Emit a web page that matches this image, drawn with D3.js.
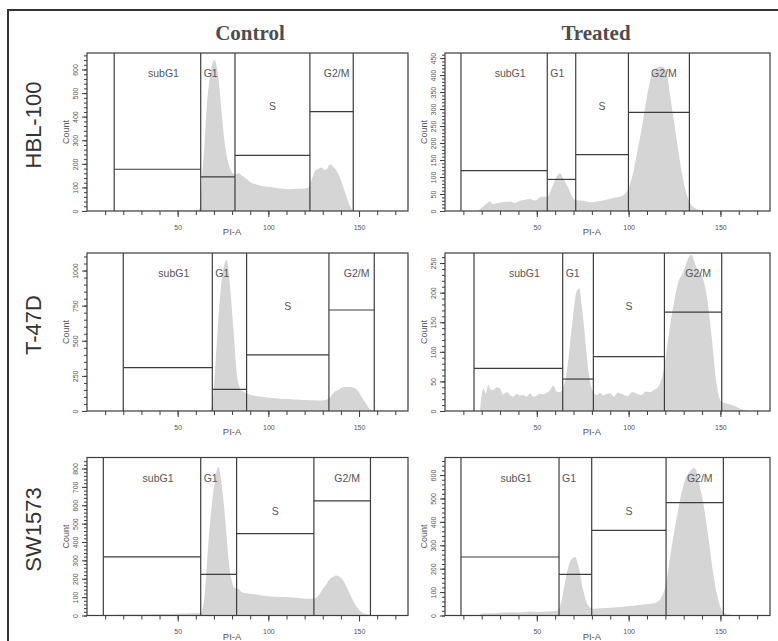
<!DOCTYPE html>
<html>
<head>
<meta charset="utf-8">
<script src="https://cdn.jsdelivr.net/npm/d3@7"></script>
<style>
body { margin: 0; background: #fff; }
svg { display: block; font-family: "Liberation Sans", Arial, sans-serif; }
</style>
</head>
<body>
<svg id="chart" width="778" height="641"></svg>
<script>
//layout
var WIDTH = 778;
var HEIGHT = 641;
var COL_LEFT = [87, 445];
var COL_WIDTH = [321, 325];
var COL_TITLE_X = [250, 596];
var ROW_TOP = [53, 253, 457.5];
var ROW_HEIGHT = 158;
var ROW_LABEL_X = 41;
var LINE_COLOR = "#3d3d3d";
var TEXT_COLOR = "#555";
var FILL_COLOR = "#d5d5d5";

//labels and axes
var CELL_LINES = ["HBL-100", "T-47D", "SW1573"];
var CONDITIONS = ["Control", "Treated"];
var GATE_NAMES = ["subG1", "G1", "S", "G2/M"];
var X_MAX = 177;
var X_TICK_LABELS = [50, 100, 150];
var X_TITLE = "PI-A";
var Y_TITLE = "Count";
var Y_MAX = [670, 465, 1125, 267, 860, 675];
var Y_TICK_STEP = [100, 50, 250, 50, 100, 100];

//gate edges (PI-A) and gate marker heights (count), one array each per panel
var hbl100ControlGates = [15, 62.7, 81.6, 122.9, 146.8];
var hbl100ControlLevels = [177, 145, 236, 421];
var hbl100TreatedGates = [8.7, 55.7, 71.2, 99.9, 133.1];
var hbl100TreatedLevels = [119, 93, 166, 290];
var t47dControlGates = [20, 69.1, 88, 133.4, 158.4];
var t47dControlLevels = [309, 154, 399, 719];
var t47dTreatedGates = [15.8, 64.1, 80.8, 119.5, 150.7];
var t47dTreatedLevels = [72, 54, 92, 167];
var sw1573ControlGates = [9, 62.7, 82.5, 125.1, 156.3];
var sw1573ControlLevels = [319, 224, 446, 624];
var sw1573TreatedGates = [8.7, 62.1, 79.9, 120.4, 151.6];
var sw1573TreatedLevels = [250, 176, 364, 482];

//histograms: [PI-A, count]
var hbl100Control = [[10,0],[30,1],[50,2],[60,3],[62,8],[63.5,150],[64.5,250],[66,440],[67.8,570],[70.2,640],[72.4,570],[74.2,420],[76.1,280],[77.9,205],[79.8,165],[81.6,155],[83.5,160],[85.5,150],[87.1,141],[90.8,120],[93.5,112],[96.3,106],[100,103],[103.6,99],[107,95],[111,92],[114.5,94],[118.3,95],[122,99],[123.9,134],[125.7,169],[127.5,178],[129.4,184],[131,174],[132.1,177],[133.3,192],[134.5,198],[135.6,188],[136.7,180],[138,165],[139.5,141],[142.3,78],[145,21],[146.5,4],[149,0]];
var hbl100Treated = [[18,0],[21.8,18],[24.5,28],[26,20],[28.1,23],[31,26],[35.4,28],[38,24],[40.8,30],[43.5,33],[46.3,35],[49,31],[52.6,42],[55.7,42],[58.1,67],[60.8,101],[62.6,111],[64.4,96],[67.2,67],[69.9,37],[71.2,32],[75.3,30],[79,26],[82.6,28],[86,31],[89.9,36],[92.5,40],[95.3,42],[98.9,57],[101.7,96],[104.4,165],[107.1,243],[109.8,331],[112.6,400],[115.3,420],[118,425],[120.7,410],[122.6,341],[125.3,243],[128,145],[130.7,67],[133.1,28],[136.2,8],[138.9,3],[145,1],[150,0]];
var t47dControl = [[20,0],[40,1],[60,2],[68,4],[69.6,114],[71.5,470],[73.3,802],[75.2,1016],[77,1075],[78.8,897],[80.7,588],[82.5,279],[84.4,161],[86,140],[88,125],[92.6,109],[97,100],[101.8,92],[106,88],[111,85],[115,82],[120.2,78],[125,76],[129.3,74],[133,85],[136.7,138],[138.5,150],[140.4,166],[142.5,170],[145,173],[147.7,162],[149.5,140],[151.4,102],[154.2,47],[156,12],[158,2],[162,0]];
var t47dTreated = [[19,0],[20.9,38],[22.2,30],[23.6,44],[25,36],[26.3,35],[28,40],[29.9,38],[31.7,28],[33.6,32],[35.4,27],[37.2,24],[39,29],[40.8,26],[42.6,27],[44.4,24],[46.3,30],[48.1,24],[50,26],[51.7,29],[53.5,28],[55.3,31],[57.2,35],[59,43],[60.8,33],[62.6,32],[64.4,40],[66.3,66],[69,140],[71.7,202],[73.2,207],[74.4,179],[75.8,140],[77.2,94],[79.9,38],[82.6,27],[84.5,31],[86.3,26],[88.1,29],[89.9,30],[92,24],[94,31],[97.1,28],[99.5,25],[102,32],[104.4,29],[107,27],[109.3,33],[111.6,32],[114,36],[116.2,41],[118.9,66],[121.6,123],[124.4,179],[127.1,218],[129.8,235],[131.5,250],[132.5,258],[134.3,264],[135.5,255],[137.1,241],[139.8,230],[142.5,196],[145.3,123],[148,44],[150.7,15],[153,13],[155.2,11],[158,8],[160.7,4],[164,1],[167,0]];
var sw1573Control = [[5,0],[10,3],[20,5],[30,6],[40,8],[50,10],[58,12],[62.7,14],[65.1,136],[66.9,391],[68.7,592],[70.6,737],[72.4,810],[74.2,719],[76.1,537],[77.9,319],[79.8,191],[81.5,150],[82.5,150],[84,140],[85.3,127],[89,120],[92.6,115],[97,108],[101.8,104],[106,101],[111,100],[115,96],[120.2,91],[125.1,92],[128.4,118],[130,145],[132.1,173],[134,200],[135.8,211],[137.2,218],[138.6,215],[141.3,191],[144.1,136],[147.7,64],[151.4,18],[155,5],[158,0]];
var sw1573Treated = [[18,0],[20.9,10],[25,9],[30,12],[35.4,14],[40,13],[46.3,17],[50,15],[55,17],[60.8,19],[62.1,30],[63.5,64],[65.9,164],[68,229],[69.5,245],[70.8,250],[72.6,214],[75.3,107],[78,43],[80.8,29],[85,31],[89.9,33],[94,35],[98.9,39],[103,42],[108,47],[112,50],[115.3,57],[118,79],[120.4,136],[122.6,250],[125.3,379],[128,493],[130.7,579],[133.4,614],[135.2,630],[136.5,625],[138,579],[140.7,479],[143.4,336],[146.1,179],[148.9,64],[151.6,14],[155.2,4],[158,0]];

var PANELS = [
    {hist: hbl100Control, gates: hbl100ControlGates, levels: hbl100ControlLevels},
    {hist: hbl100Treated, gates: hbl100TreatedGates, levels: hbl100TreatedLevels},
    {hist: t47dControl, gates: t47dControlGates, levels: t47dControlLevels},
    {hist: t47dTreated, gates: t47dTreatedGates, levels: t47dTreatedLevels},
    {hist: sw1573Control, gates: sw1573ControlGates, levels: sw1573ControlLevels},
    {hist: sw1573Treated, gates: sw1573TreatedGates, levels: sw1573TreatedLevels}
];


function styleAxis(g) {
    g.select(".domain").remove();
    g.selectAll(".tick line").attr("stroke", LINE_COLOR);
    g.selectAll(".tick text").attr("fill", TEXT_COLOR).attr("font-size", 7);
}

function drawPanel(svg, p, idx) {
    let row = Math.floor(idx / 2), col = idx % 2;
    let yMax = Y_MAX[idx], yStep = Y_TICK_STEP[idx];

    let x = d3.scaleLinear()
        .domain([0, X_MAX])
        .range([COL_LEFT[col], COL_LEFT[col] + COL_WIDTH[col]]);
    let y = d3.scaleLinear()
        .domain([0, yMax])
        .range([ROW_TOP[row] + ROW_HEIGHT, ROW_TOP[row]]);

    let g = svg.append("g");

    g.append("clipPath").attr("id", "clip" + idx)
        .append("rect")
        .attr("x", x(0)).attr("y", y(yMax))
        .attr("width", x(X_MAX) - x(0)).attr("height", y(0) - y(yMax));

    //histogram
    let area = d3.area()
        .x(d => x(d[0]))
        .y0(y(0))
        .y1(d => y(d[1]))
        .curve(d3.curveMonotoneX);
    g.append("path")
        .datum(p.hist)
        .attr("clip-path", "url(#clip" + idx + ")")
        .attr("fill", FILL_COLOR)
        .attr("d", area);

    //gates
    g.selectAll(".gate-v")
        .data(p.gates)
        .enter().append("line")
        .attr("x1", d => x(d)).attr("x2", d => x(d))
        .attr("y1", y(0)).attr("y2", y(yMax))
        .attr("stroke", LINE_COLOR).attr("stroke-width", 1.2);
    g.selectAll(".gate-h")
        .data(p.levels)
        .enter().append("line")
        .attr("x1", (d, i) => x(p.gates[i])).attr("x2", (d, i) => x(p.gates[i + 1]))
        .attr("y1", d => y(d)).attr("y2", d => y(d))
        .attr("stroke", LINE_COLOR).attr("stroke-width", 1.2);

    //gate labels
    let top = y(yMax);
    let mid = i => (x(p.gates[i]) + x(p.gates[i + 1])) / 2;
    let labelPos = [
        [mid(0) + 6, top + 24, "middle"],
        [x(p.gates[1]) + 3, top + 24, "start"],
        [mid(2), top + 57, "middle"],
        [mid(3) + 5, top + 24, "middle"]
    ];
    g.selectAll(".gate-label")
        .data(GATE_NAMES)
        .enter().append("text")
        .attr("x", (d, i) => labelPos[i][0])
        .attr("y", (d, i) => labelPos[i][1])
        .attr("text-anchor", (d, i) => labelPos[i][2])
        .attr("font-size", 10.5)
        .attr("fill", TEXT_COLOR)
        .text(d => d);

    //frame
    g.append("rect")
        .attr("x", x(0)).attr("y", y(yMax))
        .attr("width", x(X_MAX) - x(0)).attr("height", y(0) - y(yMax))
        .attr("fill", "none").attr("stroke", LINE_COLOR).attr("stroke-width", 1.2);

    //x axis
    g.append("g")
        .attr("transform", `translate(0, ${y(0)})`)
        .call(d3.axisBottom(x).tickValues(d3.range(10, X_MAX, 10)).tickSize(4).tickFormat(""))
        .call(styleAxis);
    g.append("g")
        .attr("transform", `translate(0, ${y(0)})`)
        .call(d3.axisBottom(x).tickValues(X_TICK_LABELS).tickSize(6).tickFormat(d3.format("d")))
        .call(styleAxis)
        .selectAll(".tick text").attr("y", 14).attr("dy", "0.71em");

    //y axis
    g.append("g")
        .attr("transform", `translate(${x(0)}, 0)`)
        .call(d3.axisLeft(y).tickValues(d3.range(0, yMax, yStep / 5)).tickSize(3).tickFormat(""))
        .call(styleAxis);
    g.append("g")
        .attr("transform", `translate(${x(0)}, 0)`)
        .call(d3.axisLeft(y).tickValues(d3.range(0, yMax, yStep)).tickSize(5).tickFormat(d3.format("d")))
        .call(styleAxis)
        .selectAll(".tick text")
            .attr("transform", "rotate(-90)")
            .attr("x", 0).attr("y", -9).attr("dy", 0)
            .attr("text-anchor", "middle");

    //axis titles
    g.append("text")
        .attr("x", x(80)).attr("y", y(0) + 24)
        .attr("text-anchor", "middle")
        .attr("font-size", 9.5).attr("fill", TEXT_COLOR)
        .text(X_TITLE);
    g.append("text")
        .attr("transform", `translate(${x(0) - 18}, ${(y(0) + y(yMax)) / 2}) rotate(-90)`)
        .attr("text-anchor", "middle")
        .attr("font-size", 9).attr("fill", TEXT_COLOR)
        .text(Y_TITLE);
}

function main() {
    let svg = d3.select("#chart");
    svg.append("rect").attr("width", WIDTH).attr("height", HEIGHT).attr("fill", "#fff");

    //outer border (only top and left are inside the picture)
    svg.append("rect")
        .attr("x", 8).attr("y", 10)
        .attr("width", WIDTH + 20).attr("height", HEIGHT + 20)
        .attr("fill", "none").attr("stroke", "#333").attr("stroke-width", 2);

    svg.selectAll(".col-title")
        .data(CONDITIONS)
        .enter().append("text")
        .attr("x", (d, i) => COL_TITLE_X[i]).attr("y", 40)
        .attr("text-anchor", "middle")
        .attr("font-family", "'Liberation Serif', 'Times New Roman', serif")
        .attr("font-weight", "bold").attr("font-size", 21)
        .attr("fill", "#4d4d4d")
        .text(d => d);

    svg.selectAll(".row-title")
        .data(CELL_LINES)
        .enter().append("text")
        .attr("transform", (d, i) => `translate(${ROW_LABEL_X}, ${ROW_TOP[i] + ROW_HEIGHT / 2 - 7}) rotate(-90)`)
        .attr("text-anchor", "middle")
        .attr("font-size", 22).attr("fill", "#333")
        .text(d => d);

    for (let k = 0; k < PANELS.length; k++) {
        drawPanel(svg, PANELS[k], k);
    }
}

main();
</script>
</body>
</html>
